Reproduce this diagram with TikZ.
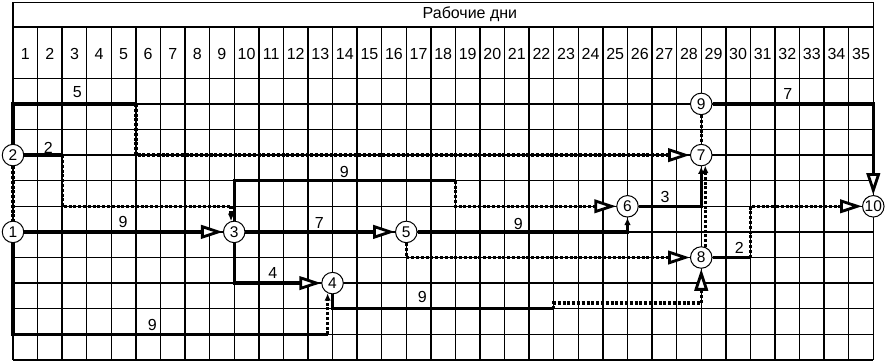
\documentclass[tikz,border=0pt]{standalone}
\usepackage{fontspec}
\setmainfont{Liberation Sans}
\usetikzlibrary{arrows.meta,calc}
\pgfdeclarelayer{gridlayer}
\pgfdeclarelayer{edgelayer}
\pgfsetlayers{gridlayer,edgelayer,main}
\begin{document}
\begin{tikzpicture}[
  ev/.style={circle,draw,fill=white,line width=1pt,minimum size=21.5pt,inner sep=0pt,font=\fontsize{15.5}{16}\selectfont},
  work/.style={line width=3.3pt},
  slack/.style={line width=3.3pt,dash pattern=on 3pt off 1.8pt},
  big/.style={-{Triangle[fill=white,length=22pt,width=13.5pt,line width=2.8pt]}},
  small/.style={-{Latex[length=7.5pt,width=6.5pt]}},
  lbl/.style={font=\fontsize{16}{18}\selectfont,inner sep=0pt},
  gridline/.style={line width=1.4pt}
]
\useasboundingbox (0pt,0pt) rectangle (888pt,-362pt);
\begin{scope}[shift={(13pt,-78.3pt)},x=24.58pt,y=-25.6pt]
% events
\node[ev] (n1) at (0,6) {1};
\node[ev] (n2) at (0,3) {2};
\node[ev] (n3) at (9,6) {3};
\node[ev] (n4) at (13,8) {4};
\node[ev] (n5) at (16,6) {5};
\node[ev] (n6) at (25,5) {6};
\node[ev] (n7) at (28,3) {7};
\node[ev] (n8) at (28,7) {8};
\node[ev] (n9) at (28,1) {9};
\node[ev] (n10) at (35,5) {10};
% header
\node[lbl,anchor=base] (hdr) at (18.59,-2.344) {Рабочие дни};
\foreach \j in {1,...,35} \node[lbl,anchor=base] (d\j) at (\j-0.5,-0.742) {\j};
% labels
\node[lbl] (l1) at (2.62,0.535) {5};
\node[lbl] (l2) at (1.44,2.70) {2};
\node[lbl] (l3) at (4.48,5.60) {9};
\node[lbl] (l4) at (5.67,9.64) {9};
\node[lbl] (l5) at (10.57,7.59) {4};
\node[lbl] (l6) at (13.48,3.65) {9};
\node[lbl] (l7) at (12.46,5.64) {7};
\node[lbl] (l8) at (20.56,5.69) {9};
\node[lbl] (l9) at (16.65,8.55) {9};
\node[lbl] (l10) at (26.53,4.62) {3};
\node[lbl] (l11) at (29.55,6.64) {2};
\node[lbl] (l12) at (31.52,0.62) {7};
% grid
\begin{pgfonlayer}{gridlayer}
\foreach \k in {-2,0,1,...,11} \draw[gridline] (0,\k) -- (35,\k);
\foreach \j in {0,...,35} \draw[gridline] (\j,-2) -- (\j,11);
\draw[gridline] (0,-2.953) rectangle (35,-2);
\end{pgfonlayer}
% connectors
\begin{pgfonlayer}{edgelayer}
\coordinate (k21) at (0,1);
\coordinate (c5) at (5,1);
\coordinate (c53) at (5,3);
\coordinate (c2) at (2,3);
\coordinate (c25) at (2,5);
\coordinate (c3a) at (8.87,5);
\coordinate (k110) at (0,10);
\coordinate (c4a) at (12.8,10);
\coordinate (k38) at (9,8);
\coordinate (k34) at (9,4);
\coordinate (c6a) at (18,4);
\coordinate (c6b) at (18,5);
\coordinate (k49) at (13,9);
\coordinate (c8a) at (22,9);
\coordinate (c8b) at (22,8.78);
\coordinate (c8c) at (28,8.78);
\coordinate (k57) at (16,7);
\coordinate (k56) at (25,6);
\coordinate (k65) at (28,5);
\coordinate (k91) at (35,1);
\coordinate (c10a) at (30,7);
\coordinate (c10b) at (30,5);
\draw[work] (n2) -- (k21) -- (c5);
\draw[slack,big] (c5) -- (c53) -- (n7);
\draw[work] (n2) -- (c2);
\draw[slack] (c2) -- (c25) -- (c3a);
\draw[slack,small] (c3a) -- (c3a |- n3.107);
\draw[slack] (n2) -- (n1);
\draw[work,big] (n1) -- (n3);
\draw[work] (n1) -- (k110) -- (c4a);
\draw[slack,small] (c4a) -- (c4a |- n4.244);
\draw[work,big] (n3) -- (k38) -- (n4);
\draw[work,big] (n3) -- (n5);
\draw[work] (n3) -- (k34) -- (c6a);
\draw[slack,big] (c6a) -- (c6b) -- (n6);
\draw[work] (n4) -- (k49) -- (c8a);
\draw[slack,big] (c8a) -- (c8b) -- (c8c) -- (n8);
\draw[slack,big] (n5) -- (k57) -- (n8);
\draw[work,small] (n5) -- (k56) -- (n6);
\draw[work,small] (n6) -- (k65) -- (n7);
\draw[slack,small] (n8.69) -- (n7.291);
\draw[slack] (n9) -- (n7);
\draw[work,big] (n9) -- (k91) -- (n10);
\draw[work] (n8) -- (c10a);
\draw[slack,big] (c10a) -- (c10b) -- (n10);
\end{pgfonlayer}
\end{scope}
\end{tikzpicture}
\end{document}
